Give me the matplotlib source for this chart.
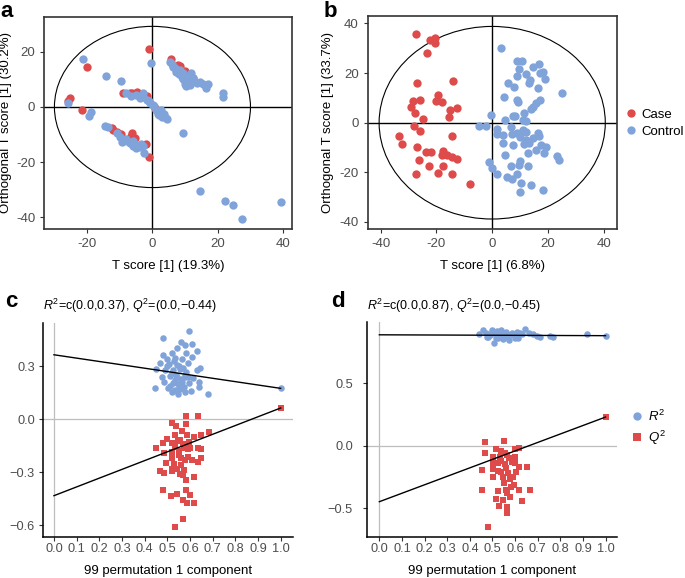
import matplotlib
matplotlib.use('Agg')
import matplotlib.pyplot as plt
from matplotlib.patches import Ellipse
from matplotlib.lines import Line2D

plt.rcParams['font.family'] = ['Liberation Sans', 'DejaVu Sans']
plt.rcParams['mathtext.fontset'] = 'custom'
plt.rcParams['mathtext.rm'] = 'Liberation Sans'
plt.rcParams['mathtext.it'] = 'Liberation Sans:italic'

# ---------------- data ----------------
# panel a (scores)
a_case_x = [-1.0, -20.1, -25.3, -25.7, -21.5, 5.8, 7.8, 8.3, 10.0, 12.5, -9.0, -7.0, -6.4, -4.6, -1.8,
            0.7, -12.5, -12.0, -11.0, -9.5, -7.5, -6.4, -6.5, -5.4, -2.0, -1.0]
a_case_y = [21.1, 14.4, 3.1, 2.3, -1.1, 17.3, 15.2, 15.0, 13.0, 10.5, 5.2, 5.0, 5.2, 5.3, 4.0,
            -0.5, -7.7, -8.5, -8.9, -9.8, -12.0, -9.5, -10.5, -11.4, -13.5, -18.0]
a_ctrl_x = [-21.2, -0.5, -14.1, -9.7, -8.2, -6.7, -3.9, -2.9, -1.8, -0.8, 0.2, 1.2, 2.2, 3.3, 4.1,
            1.7, 2.8, -5.0, -3.0, -1.0, 0.5, 2.5, 3.5, 2.0, 4.5, 9.4, -25.9, -18.9, -19.4, -14.6,
            -13.6, -10.0, -9.2, -7.7, -6.9, -5.9, -4.9, -3.6, -4.1, -2.7, -11.0, -8.0, -6.0, -5.0, -3.0,
            5.3, 6.3, 7.3, 8.4, 9.4, 10.4, 11.9, 10.9, 12.4, 13.5, 15.5, 17.0, 16.3, 10.4, 6.0,
            7.0, 8.0, 9.0, 9.5, 11.0, 12.0, 11.5, 10.0, 14.5, 21.6, 21.6, 14.5, 22.1, 24.5, 27.3, 39.2]
a_ctrl_y = [17.3, 15.8, 11.2, 9.4, 5.2, 4.0, 3.1, 5.0, 2.5, 1.6, 0.7, -1.1, -1.7, -2.9, -4.1,
            -2.5, -3.7, 4.5, 3.5, 2.0, 0.5, -1.0, -2.5, -3.0, -4.5, -9.3, 1.6, -1.7, -3.3, -6.8,
            -7.1, -10.7, -12.8, -12.2, -13.2, -14.1, -13.8, -13.4, -14.4, -16.5, -9.5, -11.5, -12.5, -15.0, -14.0,
            16.4, 14.6, 12.8, 13.4, 12.2, 11.0, 12.2, 9.2, 10.4, 8.6, 8.3, 8.3, 6.8, 7.6, 15.5,
            14.0, 12.0, 11.0, 10.0, 10.5, 9.5, 8.0, 8.5, 9.0, 5.2, 3.7, -30.4, -33.9, -35.5, -40.6, -34.5]

# panel b (scores)
b_case_x = [-27.4, -22.4, -20.6, -20.6, -23.3, -26.9, -14.2, -19.4, -20.0, -18.1, -28.4, -25.8, -29.3,
            -27.7, -15.2, -12.6, -15.5, -25.0, -27.9, -26.1, -33.4, -32.5, -14.3, -26.9, -23.8, -22.1,
            -17.8, -18.2, -16.2, -14.6, -12.6, -26.3, -22.6, -17.6, -27.4, -19.4, -14.3, -8.0]
b_case_y = [35.8, 33.3, 34.0, 32.0, 28.2, 15.9, 16.9, 11.2, 8.9, 8.5, 8.9, 9.1, 6.2,
            4.0, 5.1, 6.1, 2.2, 1.3, -1.3, -3.2, -5.4, -8.7, -5.4, -9.9, -11.7, -11.7,
            -11.3, -13.0, -13.0, -13.7, -14.6, -15.1, -17.3, -17.3, -20.7, -20.2, -20.7, -24.5]
b_ctrl_x = [3.1, 9.0, 10.8, 9.7, 14.5, 16.9, 18.1, 17.1, 19.0, 8.8, 12.3, 13.5, 13.3, 5.5, 7.8,
            16.3, 25.0, 4.3, 9.0, 9.3, 17.1, 15.9, 14.5, 14.1, 11.4, -0.6, 4.5, 7.3, 8.1, 11.1,
            12.3, -4.6, -2.4, 1.9, 1.9, 4.0, 6.6, 7.0, 9.0, 10.0, 11.1, 12.3, 12.1, 11.4, 13.3,
            14.8, 16.3, 16.9, 3.7, 7.5, 17.7, 19.3, 15.7, 13.0, 18.5, 23.1, 24.1, 4.5, -1.1, 0.0,
            6.6, 10.0, 9.7, 12.9, 1.9, 9.0, 5.2, 7.0, 10.5, 14.1, 18.1, 10.0]
b_ctrl_y = [30.2, 25.0, 25.0, 21.5, 22.3, 23.5, 20.6, 19.9, 17.5, 18.8, 19.6, 17.2, 16.1, 16.1, 14.5,
            13.9, 12.1, 10.5, 9.2, 8.5, 9.2, 8.1, 6.2, 5.5, 3.8, 3.0, 1.1, 2.7, 2.7, 1.1,
            0.8, -1.2, -1.3, -2.5, -4.6, -4.9, -1.6, -4.6, -4.0, -5.6, -2.9, -3.6, -7.0, -8.6, -8.1,
            -6.3, -4.3, -5.4, -8.3, -9.0, -9.0, -9.7, -11.0, -12.4, -12.0, -13.3, -15.1, -13.0, -15.7, -18.4,
            -17.5, -15.3, -17.1, -17.3, -20.7, -20.5, -21.8, -22.8, -24.2, -25.1, -27.1, -27.8]

# panel c (permutation test)
c_r2_x = [0.596, 0.479, 0.559, 0.578, 0.610, 0.541, 0.519, 0.582, 0.629, 0.479, 0.497, 0.534, 0.563, 0.607,
          0.468, 0.509, 0.544, 0.593, 0.450, 0.490, 0.524, 0.556, 0.582, 0.629, 0.644, 0.475, 0.512, 0.541,
          0.578, 0.612, 0.485, 0.526, 0.563, 0.597, 0.641, 0.446, 0.504, 0.534, 0.553, 0.578, 0.603, 0.641,
          0.678, 0.549, 0.519, 0.530, 0.550, 0.570, 0.520, 0.540, 0.560, 0.580, 0.500, 0.545, 0.565, 0.535,
          0.555, 0.575, 0.510, 0.590, 1.0]
c_r2_y = [0.502, 0.458, 0.439, 0.420, 0.426, 0.401, 0.373, 0.373, 0.388, 0.364, 0.340, 0.345, 0.340, 0.354,
          0.317, 0.313, 0.307, 0.320, 0.283, 0.279, 0.279, 0.283, 0.270, 0.279, 0.289, 0.238, 0.245, 0.241,
          0.238, 0.232, 0.213, 0.207, 0.213, 0.207, 0.213, 0.175, 0.175, 0.166, 0.175, 0.156, 0.162, 0.185,
          0.143, 0.145, 0.156, 0.330, 0.300, 0.290, 0.260, 0.250, 0.230, 0.250, 0.300, 0.200, 0.190, 0.220,
          0.170, 0.180, 0.190, 0.240, 0.175]
c_q2_x = [0.582, 0.634, 0.519, 0.538, 0.582, 0.563, 0.534, 0.585, 0.618, 0.647, 0.685, 0.497, 0.479, 0.519,
          0.556, 0.597, 0.449, 0.534, 0.574, 0.637, 0.649, 0.485, 0.519, 0.553, 0.593, 0.519, 0.560, 0.607,
          0.649, 0.637, 0.494, 0.468, 0.485, 0.519, 0.541, 0.574, 0.568, 0.618, 0.582, 0.482, 0.516, 0.544,
          0.582, 0.600, 0.571, 0.585, 0.618, 0.568, 0.534, 0.550, 0.570, 0.530, 0.560, 0.590, 0.545, 0.580,
          0.555, 0.600, 0.520, 1.0]
c_q2_y = [0.019, 0.019, -0.023, -0.038, -0.028, -0.066, -0.089, -0.089, -0.102, -0.089, -0.070, -0.113, -0.132,
          -0.132, -0.117, -0.126, -0.164, -0.155, -0.164, -0.164, -0.170, -0.192, -0.183, -0.202, -0.211, -0.221,
          -0.221, -0.230, -0.221, -0.240, -0.249, -0.291, -0.302, -0.283, -0.283, -0.287, -0.315, -0.328, -0.343,
          -0.400, -0.432, -0.423, -0.400, -0.428, -0.457, -0.472, -0.475, -0.566, -0.611, -0.180, -0.140, -0.250,
          -0.260, -0.170, -0.120, -0.230, -0.310, -0.160, -0.290, 0.064]
c_r2_line = [0.365, 0.175]   # value at x=0 and x=1
c_q2_line = [-0.432, 0.064]

# panel d (permutation test)
d_r2_x = [0.460, 0.442, 0.497, 0.518, 0.540, 0.562, 0.585, 0.607, 0.644, 0.474, 0.507, 0.526, 0.548, 0.575,
          0.614, 0.489, 0.600, 0.629, 0.681, 0.710, 0.754, 0.769, 0.919, 0.470, 0.505, 0.530, 0.555, 0.575,
          0.590, 0.620, 0.480, 0.515, 0.545, 0.565, 0.600, 0.500, 0.660, 0.695, 1.0]
d_r2_y = [0.924, 0.894, 0.924, 0.920, 0.924, 0.912, 0.904, 0.912, 0.930, 0.872, 0.824, 0.858, 0.877, 0.846,
          0.858, 0.885, 0.877, 0.894, 0.894, 0.872, 0.877, 0.866, 0.894, 0.905, 0.900, 0.895, 0.900, 0.885,
          0.895, 0.905, 0.870, 0.865, 0.850, 0.870, 0.860, 0.910, 0.900, 0.880, 0.880]
d_q2_x = [0.467, 0.551, 0.466, 0.516, 0.540, 0.599, 0.619, 0.504, 0.533, 0.563, 0.599, 0.503, 0.526, 0.555,
          0.585, 0.619, 0.651, 0.453, 0.501, 0.536, 0.570, 0.604, 0.501, 0.548, 0.577, 0.595, 0.526, 0.562,
          0.619, 0.453, 0.666, 0.516, 0.548, 0.577, 0.632, 0.530, 0.566, 0.566, 0.482, 0.540, 0.560, 0.575,
          0.550, 0.580, 0.565, 0.590, 0.555, 0.525, 0.600, 1.0]
d_q2_y = [0.032, 0.040, -0.061, -0.029, -0.043, -0.026, -0.021, -0.088, -0.093, -0.074, -0.088, -0.136, -0.141,
          -0.146, -0.128, -0.168, -0.168, -0.195, -0.189, -0.208, -0.221, -0.208, -0.248, -0.248, -0.269, -0.314,
          -0.360, -0.354, -0.354, -0.354, -0.354, -0.430, -0.434, -0.408, -0.443, -0.482, -0.488, -0.541, -0.653,
          -0.120, -0.180, -0.100, -0.300, -0.330, -0.380, -0.250, -0.060, -0.200, -0.140, 0.229]
d_r2_line = [0.887, 0.880]
d_q2_line = [-0.448, 0.229]

ab_xticks_a = [-20, 0, 20, 40]
ab_yticks_a = [-40, -20, 0, 20]
ab_xticks_b = [-40, -20, 0, 20, 40]
ab_yticks_b = [-40, -20, 0, 20, 40]
c_yticks = [-0.6, -0.3, 0.0, 0.3]
c_ylabels = ['\u22120.6', '\u22120.3', '0.0', '0.3']
d_yticks = [-0.5, 0.0, 0.5]
d_ylabels = ['\u22120.5', '0.0', '0.5']
perm_xticks = [0.0, 0.1, 0.2, 0.3, 0.4, 0.5, 0.6, 0.7, 0.8, 0.9, 1.0]

RED = '#DF4B4B'
BLUE = '#80A3DA'
TICKC = '#4D4D4D'

W, H = 685, 578
fig = plt.figure(figsize=(W / 100, H / 100), dpi=100)


def add_ax(l, r, t, b):
    return fig.add_axes([l / W, 1 - b / H, (r - l) / W, (b - t) / H])


def ftext(x, y, s, **kw):
    fig.text(x / W, 1 - y / H, s, **kw)


def score_panel(ax, cx, cy, kx, ky, xlim, ylim, ell, xt, yt):
    ax.scatter(cx, cy, s=36, color=RED, linewidths=0, zorder=3)
    ax.scatter(kx, ky, s=36, color=BLUE, linewidths=0, zorder=3)
    ax.axhline(0, color='black', lw=1.0, zorder=2)
    ax.axvline(0, color='black', lw=1.0, zorder=2)
    ax.add_patch(Ellipse((0, 0), 2 * ell[0], 2 * ell[1], fill=False, ec='black', lw=0.8, zorder=2))
    ax.set_xlim(*xlim)
    ax.set_ylim(*ylim)
    ax.set_xticks(xt, labels=[str(v) for v in xt])
    ax.set_yticks(yt, labels=[str(v) for v in yt])
    for sp in ax.spines.values():
        sp.set_color('#333333')
        sp.set_linewidth(1.2)
    ax.tick_params(direction='out', length=3, width=0.8, color='#333333', labelcolor=TICKC,
                   labelsize=9.5, pad=3.5)


# ---- panel a ----
axa = add_ax(44.3, 292.3, 16.7, 228.7)
score_panel(axa, a_case_x, a_case_y, a_ctrl_x, a_ctrl_y, (-33.1, 42.8), (-44.1, 32.7), (30.0, 29.2),
            ab_xticks_a, ab_yticks_a)
ftext(168.3, 265.5, 'T score [1] (19.3%)', ha='center', va='center', fontsize=9.5)
ftext(6.5, 122.7, 'Orthogonal T score [1] (30.2%)', ha='center', va='center', rotation=90, fontsize=9.5)

# ---- panel b ----
axb = add_ax(367.7, 616.7, 16.0, 228.7)
score_panel(axb, b_case_x, b_case_y, b_ctrl_x, b_ctrl_y, (-44.7, 44.7), (-42.7, 43.0), (40.6, 38.8),
            ab_xticks_b, ab_yticks_b)
ftext(492.2, 265.5, 'T score [1] (6.8%)', ha='center', va='center', fontsize=9.5)
ftext(328.5, 122.4, 'Orthogonal T score [1] (33.7%)', ha='center', va='center', rotation=90, fontsize=9.5)

hb = [Line2D([], [], marker='o', ls='none', color=RED, markersize=6, markeredgewidth=0),
      Line2D([], [], marker='o', ls='none', color=BLUE, markersize=6, markeredgewidth=0)]
fig.legend(hb, ['Case', 'Control'], loc='center left', bbox_to_anchor=(626 / W, 1 - 123.3 / H),
           frameon=False, fontsize=9.5, handlelength=0.8, handletextpad=0.4, labelspacing=0.35,
           borderaxespad=0, borderpad=0)


def perm_panel(ax, r2x, r2y, q2x, q2y, r2l, q2l, xlim, ylim, yt, ylab, ypad):
    ax.axhline(0, color='#BEBEBE', lw=0.9, zorder=1)
    ax.axvline(0, color='#BEBEBE', lw=0.9, zorder=1)
    ax.scatter(r2x, r2y, s=22, color=BLUE, marker='o', linewidths=0, zorder=3)
    ax.scatter(q2x, q2y, s=20, color=RED, marker='s', linewidths=0, zorder=3)
    ax.plot([0, 1], r2l, color='black', lw=1.0, zorder=4)
    ax.plot([0, 1], q2l, color='black', lw=1.0, zorder=4)
    ax.set_xlim(*xlim)
    ax.set_ylim(*ylim)
    ax.set_xticks(perm_xticks, labels=['%.1f' % v for v in perm_xticks])
    ax.set_yticks(yt, labels=ylab)
    for s in ['top', 'right']:
        ax.spines[s].set_visible(False)
    for s in ['left', 'bottom']:
        ax.spines[s].set_color('black')
        ax.spines[s].set_linewidth(1.1)
    ax.tick_params(direction='out', length=3, width=0.8, color='#333333', labelcolor=TICKC,
                   labelsize=9.2)
    ax.tick_params(axis='x', pad=1.5)
    ax.tick_params(axis='y', pad=ypad)


# ---- panel c ----
axc = add_ax(43.3, 292.7, 323.3, 536.7)
perm_panel(axc, c_r2_x, c_r2_y, c_q2_x, c_q2_y, c_r2_line, c_q2_line,
           (-0.047, 1.053), (-0.664, 0.543), c_yticks, c_ylabels, 3.0)
ftext(168, 571, '99 permutation 1 component', ha='center', va='center', fontsize=9.5)
ftext(43.3, 305.7, '$R^2$=c(0.0,0.37), $Q^2$=(0.0,\u22120.44)', ha='left', va='center', fontsize=9)

# ---- panel d ----
axd = add_ax(366.7, 617.3, 322.3, 536.7)
perm_panel(axd, d_r2_x, d_r2_y, d_q2_x, d_q2_y, d_r2_line, d_q2_line,
           (-0.056, 1.052), (-0.728, 0.987), d_yticks, d_ylabels, 6.8)
ftext(492, 571, '99 permutation 1 component', ha='center', va='center', fontsize=9.5)
ftext(366.7, 305.7, '$R^2$=c(0.0,0.87), $Q^2$=(0.0,\u22120.45)', ha='left', va='center', fontsize=9)

hd = [Line2D([], [], marker='o', ls='none', color=BLUE, markersize=6, markeredgewidth=0),
      Line2D([], [], marker='s', ls='none', color=RED, markersize=5.5, markeredgewidth=0)]
fig.legend(hd, ['$R^2$', '$Q^2$'], loc='center left', bbox_to_anchor=(632 / W, 1 - 427.5 / H),
           frameon=False, fontsize=9.5, handlelength=0.8, handletextpad=0.4, labelspacing=0.35,
           borderaxespad=0, borderpad=0)

# panel letters
for lx, ly, lab in [(0, 16.7, 'a'), (323.5, 16.7, 'b'), (5, 306.7, 'c'), (331, 306.7, 'd')]:
    ftext(lx, ly, lab, ha='left', va='baseline', fontsize=16, fontweight='bold')

fig.savefig('out.png', dpi=100)
